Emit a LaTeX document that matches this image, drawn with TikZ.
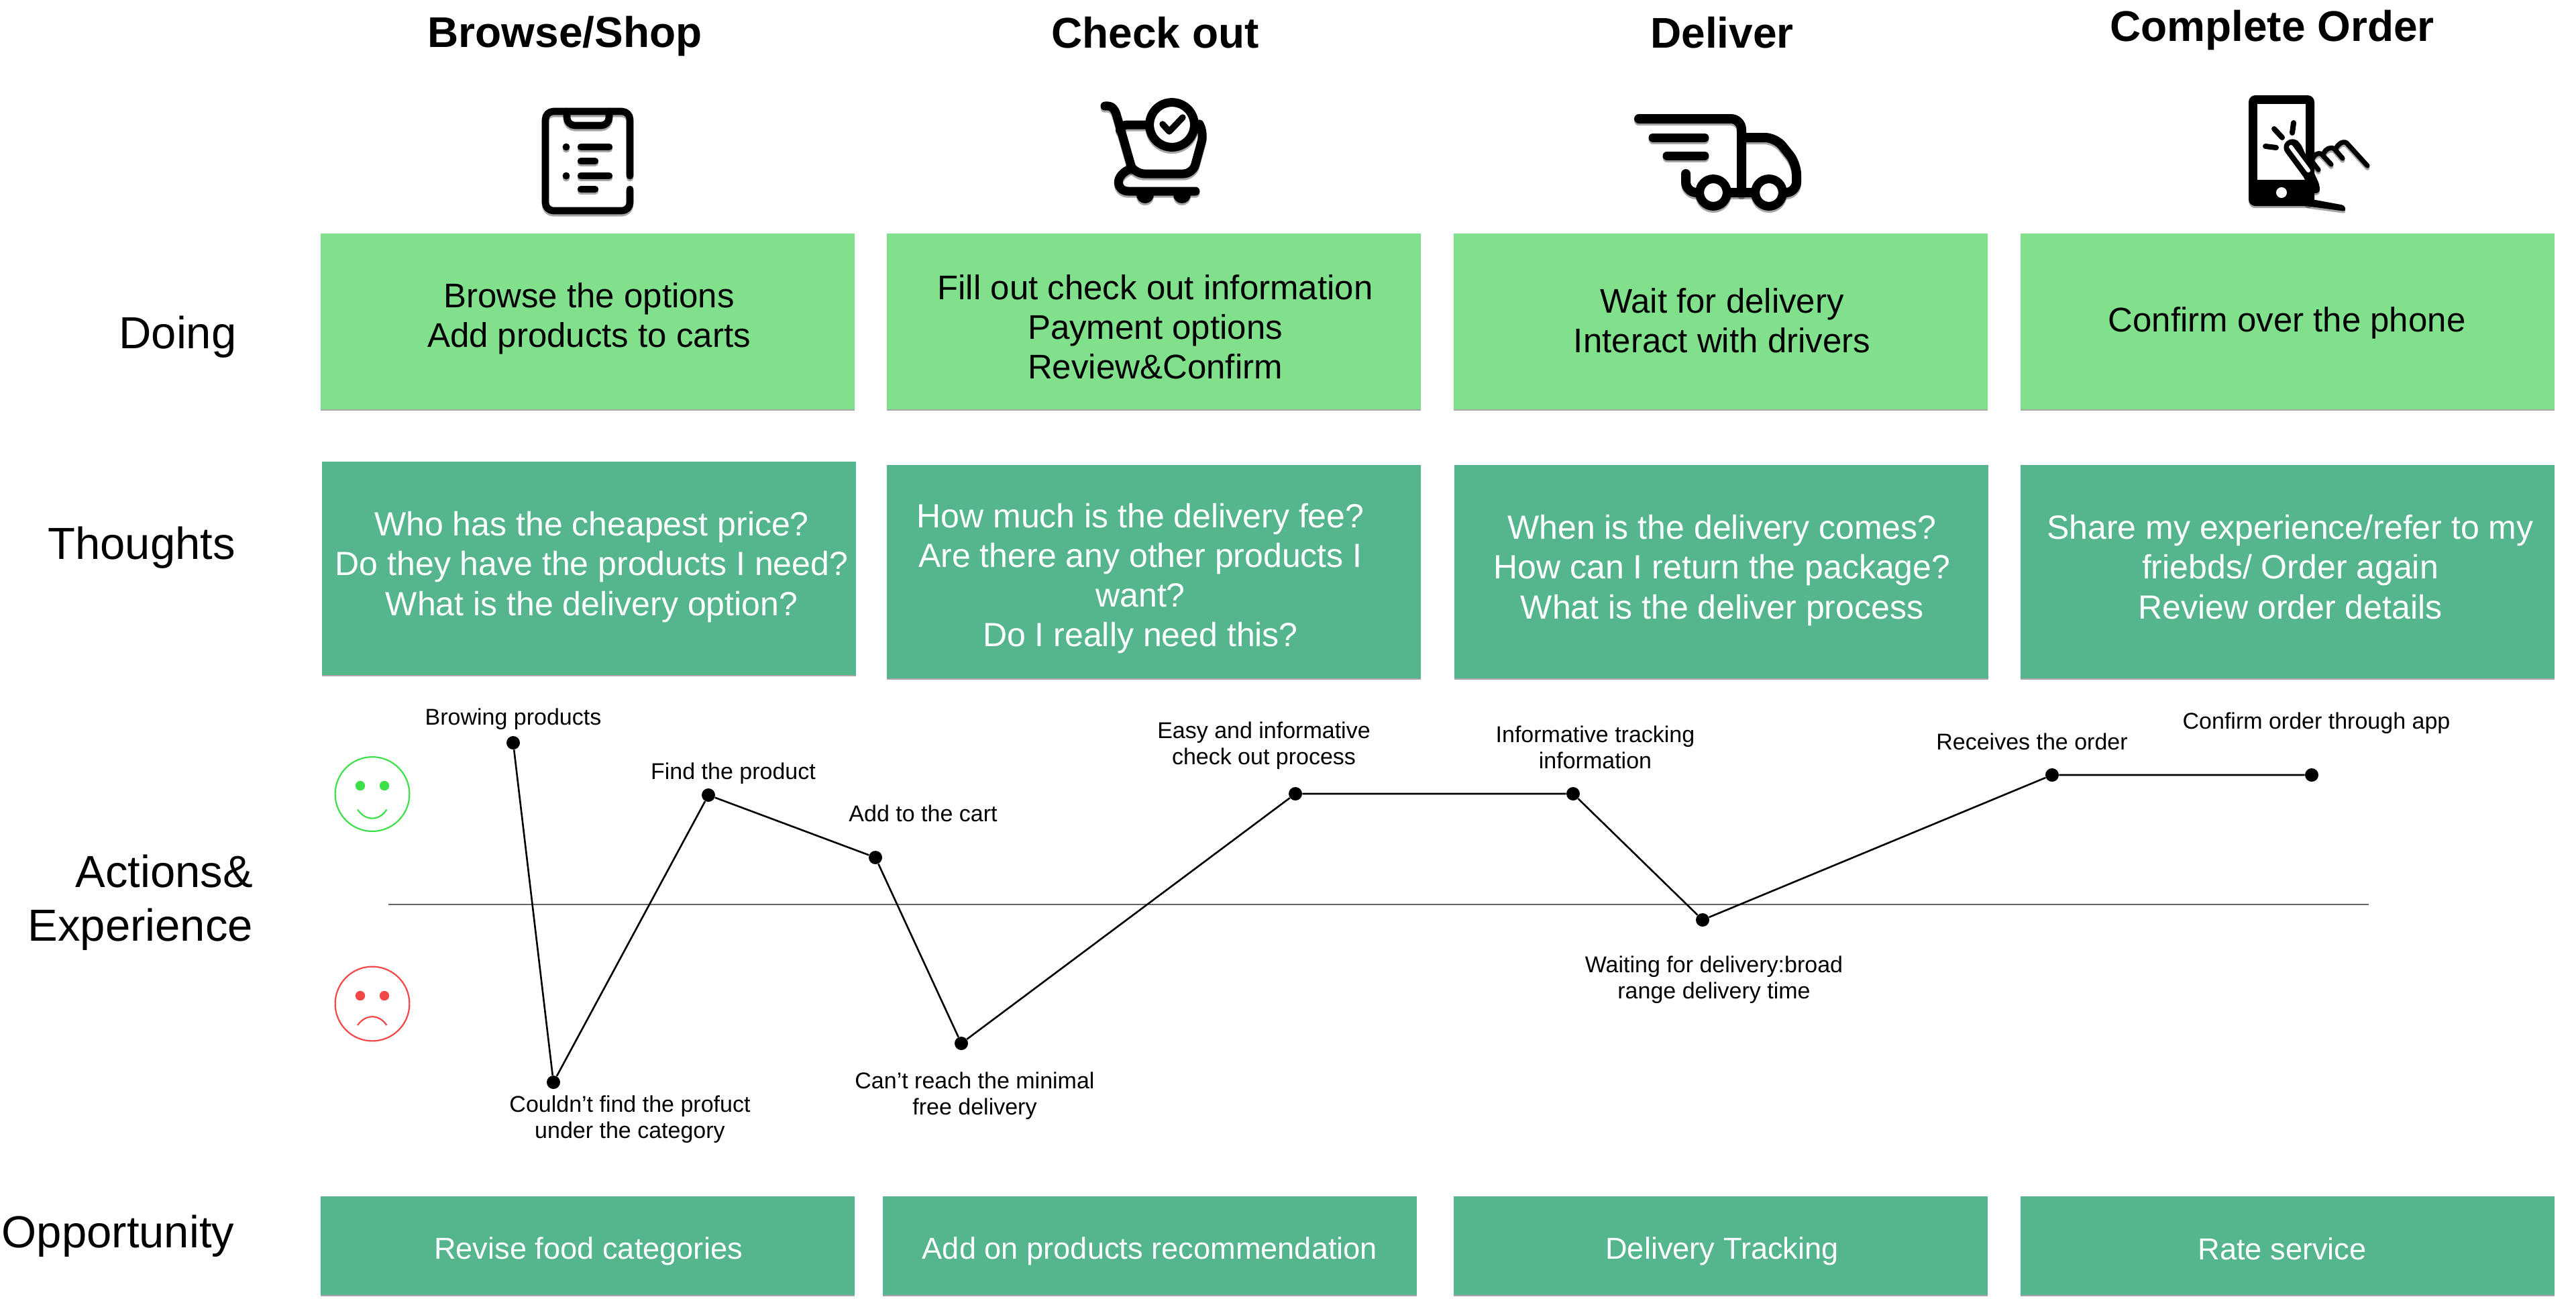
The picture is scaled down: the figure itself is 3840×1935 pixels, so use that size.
\documentclass[tikz,border=0pt]{standalone}
\usepackage{fontspec}
\setmainfont{Liberation Sans}
\usetikzlibrary{shadows}
\definecolor{lightgr}{HTML}{81E08C}
\definecolor{darkgr}{HTML}{55B68E}
\definecolor{smileg}{HTML}{3EE04A}
\definecolor{sadr}{HTML}{F44848}
\tikzset{
  lbox/.style={draw=none,fill=lightgr,minimum width=398pt,inner sep=0pt,drop shadow={shadow xshift=0pt,shadow yshift=-1pt,fill=black,opacity=.35}},
  dbox/.style={draw=none,fill=darkgr,minimum width=398pt,inner sep=0pt,drop shadow={shadow xshift=0pt,shadow yshift=-1pt,fill=black,opacity=.35}},
  btext/.style={align=center,font=\fontsize{25.5}{29.6}\selectfont,text=black},
  wtext/.style={align=center,font=\fontsize{25}{29.6}\selectfont,text=white},
  otext/.style={align=center,font=\fontsize{22.6}{27}\selectfont,text=white},
  ttext/.style={align=center,font=\fontsize{32}{38}\selectfont\bfseries,text=black},
  side/.style={align=right,font=\fontsize{33.5}{40}\selectfont,text=black},
  small/.style={align=center,font=\fontsize{17}{19.6}\selectfont,text=black},
  dot/.style={circle,fill=black,minimum size=10pt,inner sep=0pt},
  curve/.style={line width=1.3pt,black},
  ic/.style={line cap=round,line join=round}
}
\newcommand{\drawicons}[1]{%
  % clipboard
  \draw[ic,#1,line width=5.3pt,rounded corners=6pt] (939,262) -- (939,166) -- (813,166) -- (813,314) -- (939,314) -- (939,282);
  \draw[ic,#1,line width=5.3pt,rounded corners=6pt] (845,166) -- (845,187) -- (908,187) -- (908,166);
  \fill[#1] (844,219) circle (2.7pt) (844,262) circle (2.7pt);
  \draw[ic,#1,line width=5.2pt] (866,219) -- (908,219) (866,240) -- (887,240) (866,262) -- (908,262) (866,282) -- (887,282);
  % cart
  \draw[ic,#1,line width=6.5pt] (1647,158) .. controls (1658,157) and (1661,162) .. (1664,170) -- (1687,250);
  \draw[ic,#1,line width=6.5pt,rounded corners=4pt] (1670,192) -- (1672,186) -- (1715,186);
  \draw[ic,#1,line width=6.5pt,rounded corners=7pt] (1687,250) -- (1692,259) -- (1778,259) -- (1795,197) -- (1788,185);
  \draw[ic,#1,line width=6.5pt] (1682,253) .. controls (1660,264) and (1665,285) .. (1682,285) -- (1782,285);
  \fill[#1] (1694,290) arc[start angle=180,end angle=360,radius=6.5pt] -- cycle;
  \fill[#1] (1749,290) arc[start angle=180,end angle=360,radius=6.5pt] -- cycle;
  \draw[#1,line width=6.5pt,fill=white] (1747,186) circle (16.7pt);
  \draw[ic,#1,line width=4.7pt] (1733,185) -- (1743,196) -- (1763,175);
  % truck
  \draw[ic,#1,line width=7pt,rounded corners=8pt] (2443,177) -- (2596,177) -- (2596,287);
  \draw[ic,#1,line width=6.5pt] (2464,205) -- (2541,205) (2485,232) -- (2541,232);
  \draw[ic,#1,line width=7pt,rounded corners=8pt] (2513,259) -- (2513,287) -- (2678,287) -- (2678,244) -- (2647,205) -- (2596,205);
  \draw[#1,line width=6.5pt,fill=white] (2554,287) circle (10.2pt) (2637,287) circle (10.2pt);
  % phone
  \fill[#1,rounded corners=5pt] (3352,142) rectangle (3450,307);
  \fill[white] (3365,155) rectangle (3437,268);
  \fill[white] (3401,287) circle (4pt);
  \draw[ic,#1,line width=4pt] (3390,192) -- (3402,205) (3419,183) -- (3417,198) (3377,218) -- (3393,220);
  \fill[#1,rounded corners=3pt] (3403,222) -- (3407,210) -- (3420,206) -- (3429,213) -- (3458,276) -- (3458,288) -- (3437,288) -- (3432,293) -- (3437,297) -- (3437,268) -- cycle;
  \draw[ic,white,line width=3pt] (3415,219) -- (3441,254);
  \fill[#1,rounded corners=2pt] (3430,294) -- (3495,306) -- (3497,315) -- (3437,307) -- cycle;
  \draw[ic,#1,line width=3.6pt] (3456,253) -- (3446,240) .. controls (3448,232) and (3455,226) .. (3461,230) -- (3475,245);
  \draw[ic,#1,line width=3.6pt] (3464,228) .. controls (3467,222) and (3474,218) .. (3480,222) -- (3492,236);
  \draw[ic,#1,line width=3.6pt] (3482,222) .. controls (3484,216) and (3492,209) .. (3498,213) -- (3529,247);
}
\begin{document}
\begin{tikzpicture}[x=0.5pt,y=-0.5pt]
\useasboundingbox (0,0) rectangle (3840,1935);
% titles
\node[ttext] (t1) at (842,54) {Browse/Shop};
\node[ttext] (t2) at (1722,49) {Check out};
\node[ttext] (t3) at (2567,49) {Deliver};
\node[ttext] (t4) at (3387,45) {Complete Order};
% icons
\begin{scope}[yshift=-1.6pt,opacity=.35]\drawicons{black}\end{scope}
\drawicons{black}
% doing boxes
\node[lbox,minimum height=131pt] (d1) at (875.5,479) {};
\node[lbox,minimum height=131pt] (d2) at (1720,479) {};
\node[lbox,minimum height=131pt] (d3) at (2565,479) {};
\node[lbox,minimum height=131pt] (d4) at (3410,479) {};
\node[btext] (dt1) at (878,475) {Browse the options\\Add products to carts};
\node[btext] (dt2) at (1722,487) {Fill out check out information\\Payment options\\Review\&Confirm};
\node[btext] (dt3) at (2567,478) {Wait for delivery\\Interact with drivers};
\node[btext] (dt4) at (3409,481) {Confirm over the phone};
% thoughts boxes
\node[dbox,minimum height=159pt] (h1) at (878,847) {};
\node[dbox,minimum height=159pt] (h2) at (1720,852) {};
\node[dbox,minimum height=159pt] (h3) at (2566,852) {};
\node[dbox,minimum height=159pt] (h4) at (3410,852) {};
\node[wtext] (ht1) at (882,845) {Who has the cheapest price?\\Do they have the products I need?\\What is the delivery option?};
\node[wtext] (ht2) at (1700,862) {How much is the delivery fee?\\Are there any other products I\\want?\\Do I really need this?};
\node[wtext] (ht3) at (2567,850) {When is the delivery comes?\\How can I return the package?\\What is the deliver process};
\node[wtext] (ht4) at (3414,845) {Share my experience/refer to my\\friebds/ Order again\\Review order details};
% opportunity boxes
\node[dbox,minimum height=73.5pt] (o1) at (875.5,1856.5) {};
\node[dbox,minimum height=73.5pt] (o2) at (1714,1856.5) {};
\node[dbox,minimum height=73.5pt] (o3) at (2565,1856.5) {};
\node[dbox,minimum height=73.5pt] (o4) at (3410,1856.5) {};
\node[otext] (ot1) at (877,1865) {Revise food categories};
\node[otext] (ot2) at (1714,1865) {Add on products recommendation};
\node[otext] (ot3) at (2567,1865) {Delivery Tracking};
\node[otext] (ot4) at (3402,1861) {Rate service};
% side labels
\node[side] (s1) at (265,502) {Doing};
\node[side] (s2) at (211,816) {Thoughts};
\node[side,anchor=east] (s3) at (384,1345) {Actions\&\\Experience};
\node[side] (s4) at (176,1842) {Opportunity};
% baseline
\coordinate (b1) at (579,1348);
\coordinate (b2) at (3531,1348);
\draw[line width=.7pt,black!60] (b1) -- (b2);
% faces
\draw[smileg,line width=1.1pt] (555,1183.5) circle (27.7pt);
\fill[smileg] (537,1171) circle (3.6pt) (573,1171) circle (3.6pt);
\draw[smileg,line width=1.1pt] (533,1206.5) .. controls (545,1224) and (565,1224) .. (576.5,1206.5);
\draw[sadr,line width=1.1pt] (555,1496) circle (27.7pt);
\fill[sadr] (537,1484) circle (3.6pt) (573,1484) circle (3.6pt);
\draw[sadr,line width=1.1pt] (533,1528) .. controls (545,1511) and (565,1511) .. (576.5,1528);
% journey
\node[dot] (p1) at (765,1107) {};
\node[dot] (p2) at (825,1613) {};
\node[dot] (p3) at (1056,1185) {};
\node[dot] (p4) at (1305,1278) {};
\node[dot] (p5) at (1433,1555) {};
\node[dot] (p6) at (1931,1183) {};
\node[dot] (p7) at (2345,1183) {};
\node[dot] (p8) at (2538,1371) {};
\node[dot] (p9) at (3059,1155) {};
\node[dot] (p10) at (3446,1155) {};
\draw[curve] (p1) -- (p2) -- (p3) -- (p4) -- (p5) -- (p6) -- (p7) -- (p8) -- (p9) -- (p10);
% journey labels
\node[small] (l1) at (765,1072) {Browing products};
\node[small] (l2) at (939,1668) {Couldn’t find the profuct\\under the category};
\node[small] (l3) at (1093,1153) {Find the product};
\node[small] (l4) at (1376,1212) {Add to the cart};
\node[small] (l5) at (1453,1633) {Can’t reach the minimal\\free delivery};
\node[small] (l6) at (1884,1111) {Easy and informative\\check out process};
\node[small] (l7) at (2378,1114) {Informative tracking\\information};
\node[small] (l8) at (2555,1460) {Waiting for delivery:broad\\range delivery time};
\node[small] (l9) at (3029,1105) {Receives the order};
\node[small] (l10) at (3453,1078) {Confirm order through app};
\end{tikzpicture}
\end{document}
